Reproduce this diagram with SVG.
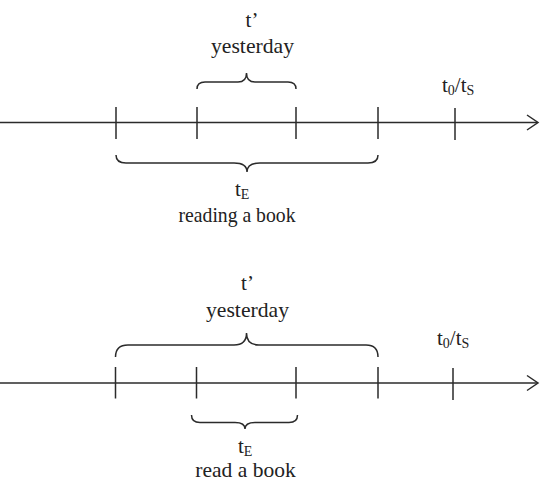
<svg xmlns="http://www.w3.org/2000/svg" width="540" height="489" viewBox="0 0 540 489">
<style>
.ln{fill:none;stroke:#2b2b2b;stroke-width:1.5;stroke-linecap:butt;stroke-linejoin:miter}
.br{fill:none;stroke:#2b2b2b;stroke-width:1.5}
text{font-family:'Liberation Serif','Times New Roman','DejaVu Serif',serif;font-size:21px;fill:#222}
.sub{font-size:14px}
</style>
<rect width="540" height="489" fill="#ffffff"/>
<g id="timeline1">
  <g id="axis1">
    <path class="ln" d="M0,122.5 H537"/>
    <path class="ln" d="M527,115 L538,122.5 L527,130"/>
  </g>
  <g id="ticks1">
    <path class="ln" d="M116,107 V139 M197,107 V139 M296,107 V139 M378,107 V139 M455,108 V140"/>
  </g>
  <g id="brace-yesterday1">
    <path class="br" d="M197,89 Q197,82 205,82 L238,82 Q246.5,82 246.5,73 Q246.5,82 255,82 L288,82 Q296,82 296,89"/>
    <text x="252" y="27" text-anchor="middle">t’</text>
    <text x="252.5" y="53" text-anchor="middle" textLength="83" lengthAdjust="spacingAndGlyphs">yesterday</text>
  </g>
  <g id="brace-event1">
    <path class="br" d="M116,155 Q116,163 126,163 L234,163 Q247,163 247,172 Q247,163 260,163 L368,163 Q378,163 378,155"/>
    <text x="235" y="196">t<tspan class="sub" dy="3">E</tspan></text>
    <text x="237" y="221.7" text-anchor="middle" textLength="117" lengthAdjust="spacingAndGlyphs">reading a book</text>
  </g>
  <g id="now1">
    <text x="442" y="92">t<tspan class="sub" dy="3">0</tspan><tspan dy="-3">/t</tspan><tspan class="sub" dy="3">S</tspan></text>
  </g>
</g>
<g id="timeline2">
  <g id="axis2">
    <path class="ln" d="M0,383 H537"/>
    <path class="ln" d="M527,375.5 L538,383 L527,390.5"/>
  </g>
  <g id="ticks2">
    <path class="ln" d="M115.5,367 V398.5 M196.5,367 V398.5 M296,367 V398.5 M378,367 V398.5 M453,368 V400"/>
  </g>
  <g id="brace-yesterday2">
    <path class="br" d="M115.5,357 Q115.5,345 128,345 L234,345 Q246.5,345 246.5,333 Q246.5,345 259,345 L366,345 Q378,345 378,357"/>
    <text x="247.5" y="290" text-anchor="middle">t’</text>
    <text x="247.5" y="317.3" text-anchor="middle" textLength="83" lengthAdjust="spacingAndGlyphs">yesterday</text>
  </g>
  <g id="brace-event2">
    <path class="br" d="M191.5,415 Q191.5,422.5 200,422.5 L235,422.5 Q245,422.5 245,429 Q245,422.5 255,422.5 L289,422.5 Q297.5,422.5 297.5,415"/>
    <text x="238" y="453">t<tspan class="sub" dy="3">E</tspan></text>
    <text x="245.5" y="476.7" text-anchor="middle" textLength="100.5" lengthAdjust="spacingAndGlyphs">read a book</text>
  </g>
  <g id="now2">
    <text x="437" y="345">t<tspan class="sub" dy="3">0</tspan><tspan dy="-3">/t</tspan><tspan class="sub" dy="3">S</tspan></text>
  </g>
</g>
</svg>
